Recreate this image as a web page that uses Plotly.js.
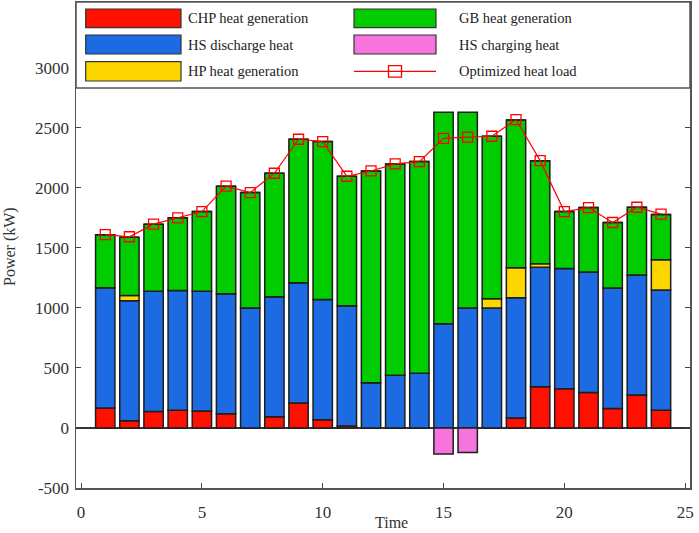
<!DOCTYPE html>
<html>
<head>
<meta charset="utf-8">
<script src="https://cdn.plot.ly/plotly-3.0.1.min.js"></script>
<style>html,body{margin:0;padding:0;background:#fff;}#chart{width:699px;height:533px;}</style>
</head>
<body>
<div id="chart"></div>
<script>
// ---- data ----
const hours = [1,2,3,4,5,6,7,8,9,10,11,12,13,14,15,16,17,18,19,20,21,22,23,24];
const chpHeat = [166,61,138,147,141,119,0,94,208,69,17,0,0,0,0,0,0,83,344,327,296,163,274,147];
const hsDischarge = [1001,998,1001,998,998,998,998,998,1001,1001,1000,377,438,455,868,998,998,1001,995,1001,1002,1002,999,1001];
const hpHeat = [0,44,0,0,0,0,0,0,0,0,0,0,0,0,0,0,78,250,28,0,0,0,0,252];
const gbHeat = [441,486,558,605,663,896,962,1029,1195,1315,1079,1763,1761,1763,1761,1631,1353,1231,859,474,537,546,565,377];
const hsCharging = [0,0,0,0,0,0,0,0,0,0,0,0,0,0,-216,-205,0,0,0,0,0,0,0,0];
const heatLoad = [1610,1592,1697,1750,1802,2013,1960,2121,2404,2385,2096,2140,2199,2218,2412,2421,2429,2568,2226,1802,1835,1711,1838,1780];
const xTicks = [0,5,10,15,20,25];
const yTicks = [-500,0,500,1000,1500,2000,2500,3000];
const yTickText = ['-500','0','500','1000','1500','2000','2500','3000'];

const names = ['CHP heat generation','HS discharge heat','HP heat generation','GB heat generation','HS charging heat','Optimized heat load'];
const xTitle = 'Time';
const yTitle = 'Power (kW)';
const colors = {chp:'#ff1000', hs:'#1c6be3', hp:'#ffd700', gb:'#00cc00', ch:'#f774de', load:'#ff0000'};

const serif = 'Liberation Serif, Times New Roman, serif';
const edge = {color:'#1e1e1e', width:1.5};

function barTrace(y, name, color){
  return {type:'bar', x:hours, y:y, name:name, width:0.8,
    marker:{color:color, line:edge}, showlegend:false, hoverinfo:'x+y+name'};
}

const traces = [
  barTrace(chpHeat, names[0], colors.chp),
  barTrace(hsDischarge, names[1], colors.hs),
  barTrace(hpHeat, names[2], colors.hp),
  barTrace(gbHeat, names[3], colors.gb),
  barTrace(hsCharging, names[4], colors.ch),
  {type:'scatter', mode:'lines+markers', x:hours, y:heatLoad, name:names[5],
   line:{color:colors.load, width:1.2},
   marker:{symbol:'square-open', size:10, color:colors.load, line:{width:1.3, color:colors.load}},
   showlegend:false}
];

// ---- layout geometry (pixels -> paper) ----
const W = 699, H = 533;
const L = 76, R = 690, T = 2, B = 488;
const px = v => (v - L) / (R - L);
const py = v => (B - v) / (B - T);

const shapes = [];
const annotations = [];
// legend box
shapes.push({type:'rect', xref:'paper', yref:'paper', x0:px(L), x1:px(R), y0:py(88), y1:py(T),
  fillcolor:'#ffffff', line:{color:'#555555', width:1.5}, layer:'above'});

const rowsY = [[9,27.7],[35,54],[61.7,81]];
const col1 = {x0:85.7, x1:181, tx:186};
const col2 = {x0:354, x1:436, tx:457};
const legendItems = [
  {col:col1, row:0, fill:colors.chp, text:names[0]},
  {col:col1, row:1, fill:colors.hs, text:names[1]},
  {col:col1, row:2, fill:colors.hp, text:names[2]},
  {col:col2, row:0, fill:colors.gb, text:names[3]},
  {col:col2, row:1, fill:colors.ch, text:names[4]},
  {col:col2, row:2, fill:null, text:names[5]}
];
legendItems.forEach(it => {
  const r = rowsY[it.row];
  const cy = (r[0] + r[1]) / 2;
  if (it.fill) {
    shapes.push({type:'rect', xref:'paper', yref:'paper', x0:px(it.col.x0), x1:px(it.col.x1),
      y0:py(r[1]), y1:py(r[0]), fillcolor:it.fill, line:{color:'#333333', width:1.2}, layer:'above'});
  } else {
    shapes.push({type:'line', xref:'paper', yref:'paper', x0:px(it.col.x0), x1:px(it.col.x1),
      y0:py(cy), y1:py(cy), line:{color:colors.load, width:1.2}, layer:'above'});
    const mx = (it.col.x0 + it.col.x1) / 2;
    shapes.push({type:'rect', xref:'paper', yref:'paper', x0:px(mx-6.5), x1:px(mx+6.5),
      y0:py(cy+5.8), y1:py(cy-5.8), fillcolor:'rgba(0,0,0,0)', line:{color:colors.load, width:1.3}, layer:'above'});
  }
  annotations.push({xref:'paper', yref:'paper', x:px(it.col.tx), y:py(cy), xanchor:'left', yanchor:'middle',
    text:it.text, showarrow:false, font:{family:serif, size:14.5, color:'#222222'}});
});

// axis titles placed where the reference has them
annotations.push({xref:'paper', yref:'paper', x:px(391), y:py(522), xanchor:'center', yanchor:'middle',
  text:xTitle, showarrow:false, font:{family:serif, size:16, color:'#333333'}});
annotations.push({xref:'paper', yref:'paper', x:px(10), y:py(247), xanchor:'center', yanchor:'middle',
  text:yTitle, textangle:-90, showarrow:false, font:{family:serif, size:16, color:'#333333'}});

const layout = {
  width:W, height:H,
  margin:{l:L, r:W-R, t:T, b:H-B},
  paper_bgcolor:'#ffffff', plot_bgcolor:'#ffffff',
  barmode:'relative', bargap:0.2,
  font:{family:serif, color:'#333333'},
  xaxis:{range:[-0.21,25.2], tickvals:xTicks, ticks:'inside', ticklen:5, tickcolor:'#444',
    showline:true, linecolor:'#555555', linewidth:1.5, mirror:'ticks', showgrid:false, zeroline:false,
    tickfont:{family:serif, size:17, color:'#333333'}, ticklabelstandoff:8},
  yaxis:{range:[-500,3547], tickvals:yTicks, ticktext:yTickText, ticks:'inside', ticklen:5, tickcolor:'#444',
    showline:true, linecolor:'#555555', linewidth:1.5, mirror:'ticks', showgrid:false,
    zeroline:true, zerolinecolor:'#333333', zerolinewidth:1.2,
    tickfont:{family:serif, size:17, color:'#333333'}, ticklabelstandoff:2},
  shapes:shapes,
  annotations:annotations
};

Plotly.newPlot('chart', traces, layout, {displayModeBar:false, staticPlot:true});
</script>
</body>
</html>
